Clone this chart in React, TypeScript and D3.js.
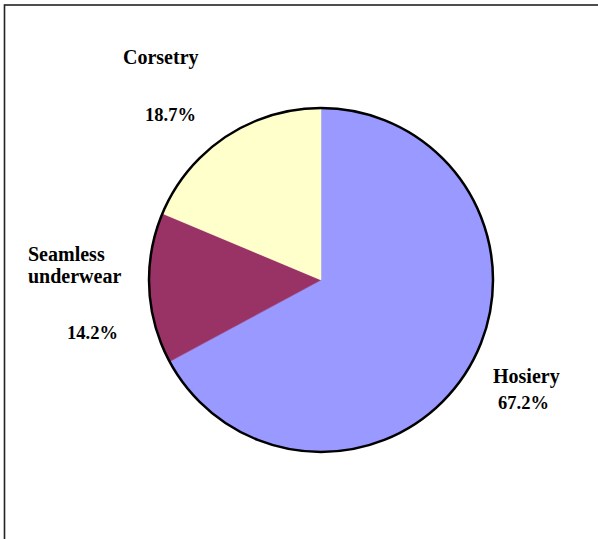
import React from "react";
import * as d3 from "d3";

const categories = ["Hosiery", "Seamless underwear", "Corsetry"];
const values = [67.2, 14.2, 18.7];
const colors = ["#9999FF", "#993366", "#FFFFCC"];

const W = 598;
const H = 539;
const cx = 321;
const cy = 280;
const R = 172;

const FONT = "Liberation Serif, Times New Roman, DejaVu Serif, serif";

export default function App() {
  const pie = d3
    .pie<number>()
    .sort(null)
    .startAngle(0)
    .endAngle(2 * Math.PI)
    .value((d) => d);
  const arcs = pie(values);
  const arc = d3.arc<d3.PieArcDatum<number>>().innerRadius(0).outerRadius(R);

  const t = (x: number, y: number, s: string, size = 20) => (
    <text x={x} y={y} fontFamily={FONT} fontWeight="bold" fontSize={size} fill="#000">
      {s}
    </text>
  );

  return (
    <svg
      width={W}
      height={H}
      style={{ position: "absolute", left: 0, top: 0, background: "#fff" }}
    >
      <rect x={4.5} y={5} width={W + 10} height={H + 10} fill="#fff" stroke="#222" strokeWidth={1.6} />
      <g transform={`translate(${cx},${cy})`}>
        {arcs.map((a, i) => (
          <path key={categories[i]} d={arc(a) || ""} fill={colors[i]} stroke={colors[i]} strokeWidth={0.5} />
        ))}
        <circle r={R} fill="none" stroke="#000" strokeWidth={2.5} />
      </g>
      {t(123, 64, categories[2])}
      {t(145, 121, values[2].toFixed(1) + "%", 18.5)}
      {t(28, 261, "Seamless")}
      {t(28, 283, "underwear")}
      {t(67, 339, values[1].toFixed(1) + "%", 18.5)}
      {t(493, 383, categories[0])}
      {t(498, 409, values[0].toFixed(1) + "%", 18.5)}
    </svg>
  );
}
